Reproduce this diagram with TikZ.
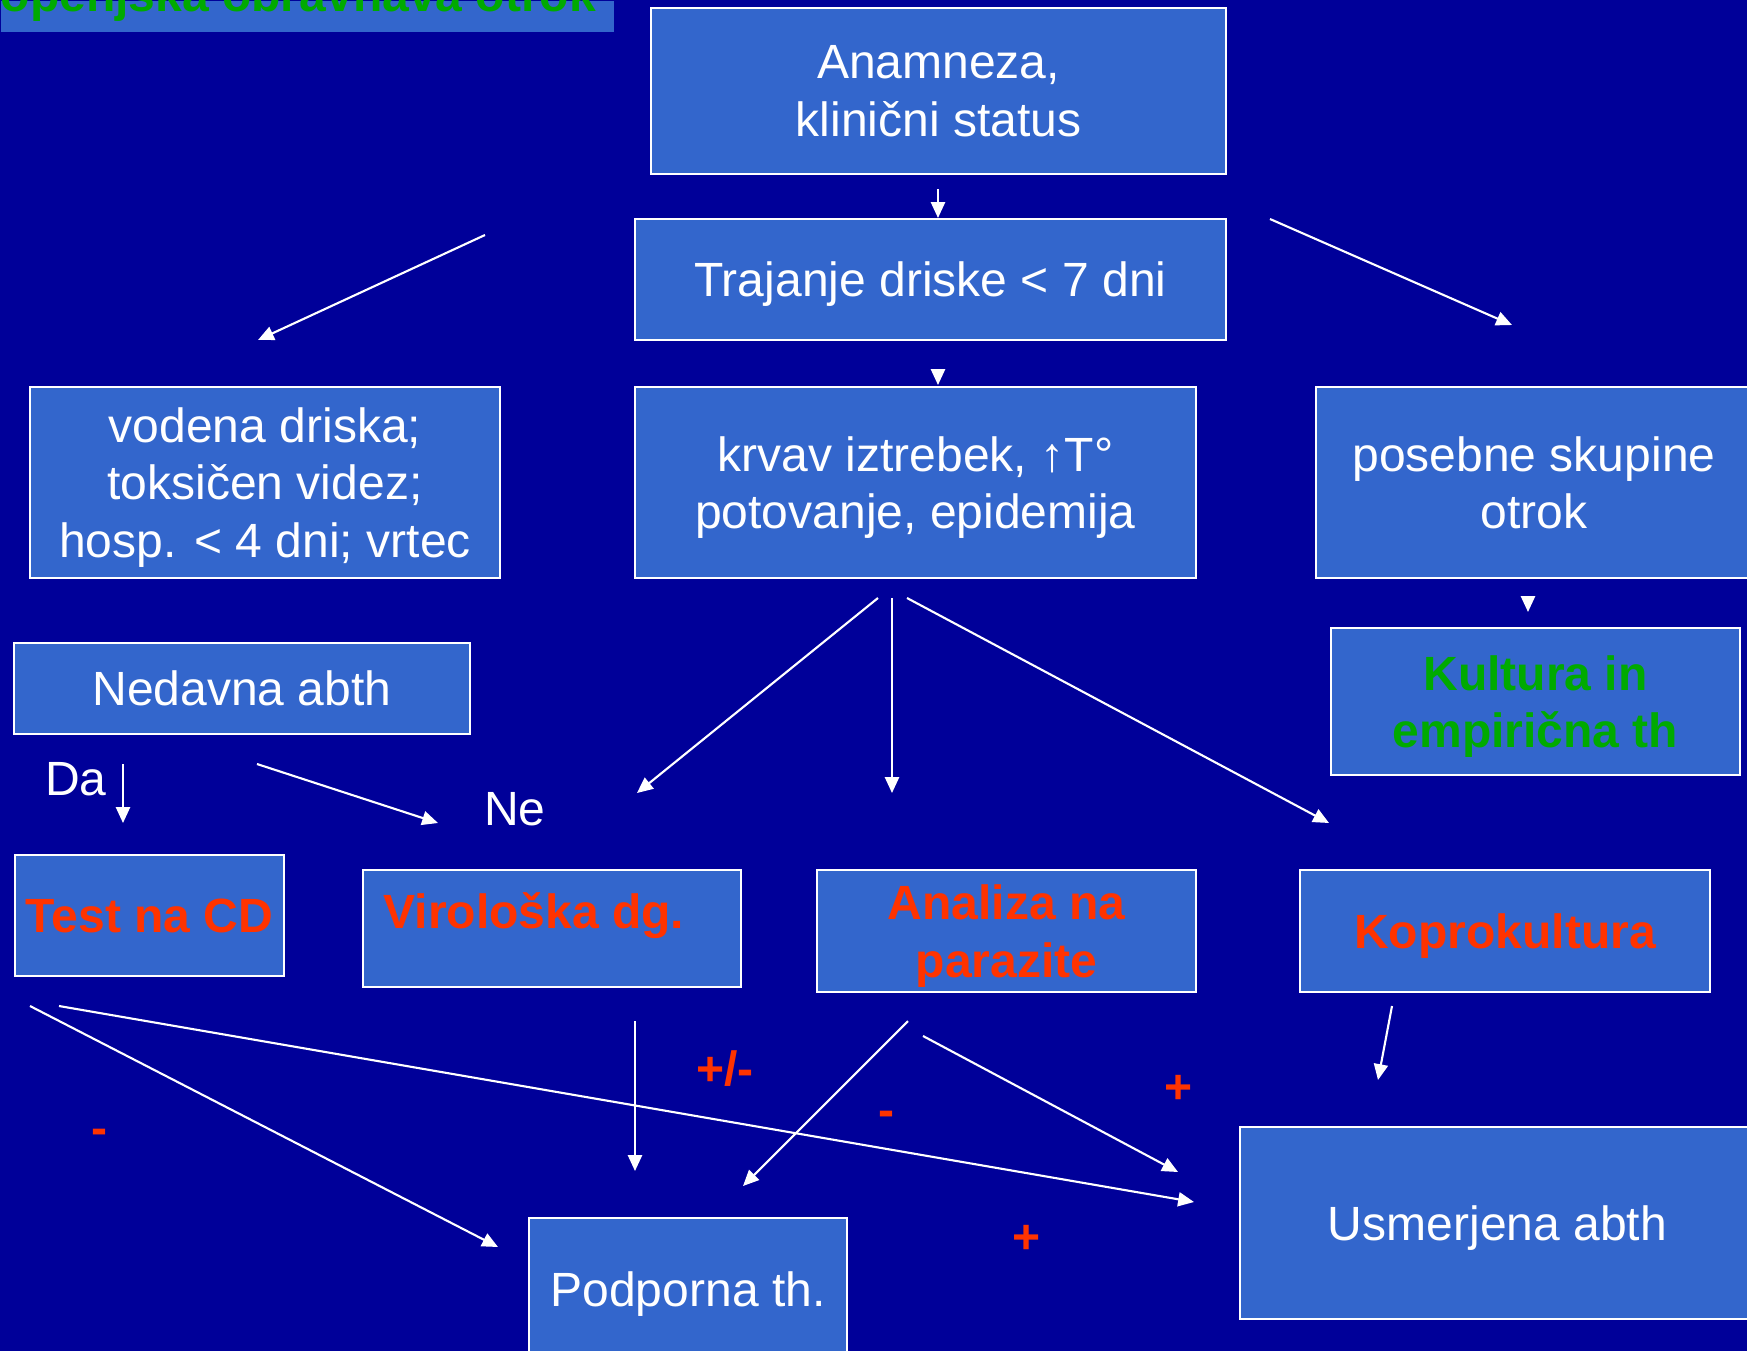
\documentclass[tikz,border=0pt]{standalone}
\usepackage{fontspec}
\setmainfont{Liberation Sans}
\usetikzlibrary{arrows.meta}

\definecolor{bgblue}{HTML}{000099}
\definecolor{boxblue}{HTML}{3366CC}
\definecolor{txtred}{HTML}{FF3300}
\definecolor{txtgreen}{HTML}{00AA00}

\newcommand{\slidefont}{\fontsize{13.66pt}{16.4pt}\selectfont}

\tikzset{
    box/.style={draw=white, line width=0.6pt, fill=boxblue, text=white, align=center, inner sep=0pt, text depth=0pt, font=\slidefont},
    redbox/.style={text=txtred, font=\slidefont\bfseries},
    redtxt/.style={text=txtred, font=\slidefont\bfseries, inner sep=0pt},
    lbl/.style={text=white, font=\slidefont, inner sep=0pt},
    arr/.style={white, line width=0.6pt, -{Triangle[length=4.5pt, width=4pt]}},
}

\begin{document}
\begin{tikzpicture}[x=0.01cm, y=-0.01cm]

    \useasboundingbox (0,0) rectangle (1747,1351);
    \clip (0,0) rectangle (1747,1351);
    \fill[bgblue] (0,0) rectangle (1747,1351);

    \node[fill=boxblue, minimum width=6.13cm, minimum height=0.31cm, anchor=north west, inner sep=0pt] (banner) at (0,0) {};
    \node[anchor=base west, text=txtgreen, font=\slidefont\bfseries, inner sep=0pt] (title) at (-48,11) {Stopenjska obravnava otrok};

    \node[box, minimum width=5.75cm, minimum height=1.66cm] (anam) at (938.5,91) {Anamneza,\\klinični status};
    \node[box, minimum width=5.91cm, minimum height=1.21cm] (traj) at (930.5,279.5) {Trajanje driske < 7 dni};

    \node[box, minimum width=4.70cm, minimum height=1.91cm] (voden) at (265,482.5) {vodena driska;\\toksičen videz;\\hosp. < 4 dni; vrtec};
    \node[box, minimum width=5.61cm, minimum height=1.91cm] (krvav) at (915.5,482.5) {krvav iztrebek, ↑T°\\potovanje, epidemija};
    \node[box, minimum width=4.36cm, minimum height=1.91cm] (poseb) at (1534,482.5) {posebne skupine\\otrok};
    \node[box, minimum width=4.09cm, minimum height=1.47cm, text=txtgreen, font=\slidefont\bfseries] (kult) at (1535.5,701.5) {Kultura in\\empirična th};
    \node[box, minimum width=4.56cm, minimum height=0.91cm] (nedav) at (242,688.5) {Nedavna abth};

    \node[box, redbox, minimum width=2.69cm, minimum height=1.21cm] (testcd) at (149.5,915.5) {Test na CD};
    \node[box, minimum width=3.78cm, minimum height=1.17cm] (viro) at (552,928.5) {};
    \node[redtxt, anchor=base west] (virotxt) at ([shift={(21,60)}]viro.north west) {Virološka dg.};
    \node[box, redbox, minimum width=3.79cm, minimum height=1.22cm] (paraz) at (1006.5,931) {Analiza na\\parazite};
    \node[box, redbox, minimum width=4.10cm, minimum height=1.22cm] (kopro) at (1505,931) {Koprokultura};

    \node[box, minimum width=5.15cm, minimum height=1.92cm] (usmer) at (1497.5,1223) {Usmerjena abth};
    \node[box, minimum width=3.18cm, minimum height=1.42cm] (podp) at (688,1289) {Podporna th.};

    \node[lbl] (da) at (76,779) {Da};
    \node[lbl] (ne) at (515,809) {Ne};

    \node[redtxt] (minus1) at (99,1137) {-};
    \node[redtxt] (plusminus) at (725,1069) {+/-};
    \node[redtxt] (minus2) at (886,1119) {-};
    \node[redtxt] (plus1) at (1179,1089) {+};
    \node[redtxt] (plus2) at (1027,1239) {+};

    \coordinate (a1) at (938,189);   \coordinate (a2) at (938,218);
    \coordinate (b1) at (938,369);   \coordinate (b2) at (938,385);
    \coordinate (c1) at (485,235);   \coordinate (c2) at (258,340);
    \coordinate (d1) at (1270,219);  \coordinate (d2) at (1512,325);
    \coordinate (e1) at (1528,596);  \coordinate (e2) at (1528,612);
    \coordinate (f1) at (878,598);   \coordinate (f2) at (637,793);
    \coordinate (g1) at (892,598);   \coordinate (g2) at (892,793);
    \coordinate (h1) at (907,598);   \coordinate (h2) at (1329,823);
    \coordinate (da1) at (123,764);  \coordinate (da2) at (123,823);
    \coordinate (ne1) at (257,764);  \coordinate (ne2) at (438,823);
    \coordinate (t1) at (30,1006);   \coordinate (t2) at (498,1247);
    \coordinate (t3) at (59,1006);   \coordinate (t4) at (1194,1202);
    \coordinate (v1) at (635,1021);  \coordinate (v2) at (635,1171);
    \coordinate (p1) at (908,1021);  \coordinate (p2) at (743,1186);
    \coordinate (p3) at (923,1036);  \coordinate (p4) at (1178,1172);
    \coordinate (k1) at (1392,1006); \coordinate (k2) at (1378,1080);

    \draw[arr] (a1) -- (a2);
    \draw[arr] (b1) -- (b2);
    \draw[arr] (c1) -- (c2);
    \draw[arr] (d1) -- (d2);
    \draw[arr] (e1) -- (e2);
    \draw[arr] (f1) -- (f2);
    \draw[arr] (g1) -- (g2);
    \draw[arr] (h1) -- (h2);
    \draw[arr] (da1) -- (da2);
    \draw[arr] (ne1) -- (ne2);
    \draw[arr] (t1) -- (t2);
    \draw[arr] (t3) -- (t4);
    \draw[arr] (v1) -- (v2);
    \draw[arr] (p1) -- (p2);
    \draw[arr] (p3) -- (p4);
    \draw[arr] (k1) -- (k2);

\end{tikzpicture}
\end{document}
